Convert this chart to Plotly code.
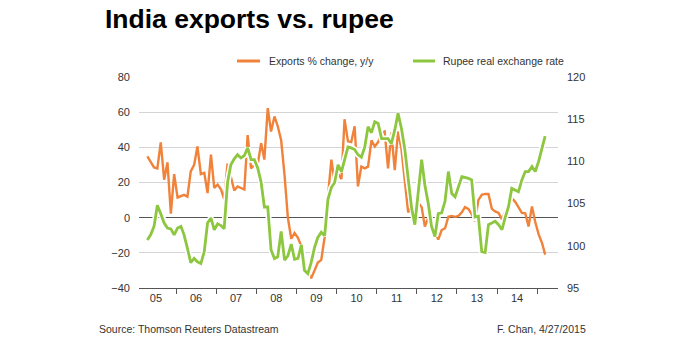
import plotly.graph_objects as go
import pandas as pd

# ---------------- data (monthly, Apr 2005 - Mar 2015) ----------------
start_month = "2005-04"

exports_pct_yy = [
    34.8, 32, 28.6, 28, 42.8, 21.6, 31.4, 2.3, 24.8,              # 2005 Apr-Dec
    11.5, 12.5, 13, 12, 26.3, 30, 40.5, 24.8, 25.5, 14, 35.8, 16.9,  # 2006
    18.8, 16, 10.6, 30.7, 23, 15.5, 17.8, 17, 16, 47, 28, 30,        # 2007
    30.5, 42.4, 33, 62.3, 49, 57.6, 52, 44, 24, 0, -12, -8.7,        # 2008
    -11.5, -16.3, -25, -30.5, -34.5, -30, -25.5, -24, -11, 12, 33, 20,  # 2009
    25, 22, 56, 43.4, 43, 52, 17.8, 29, 28, 29, 44, 40.5,            # 2010
    43, 48, 49, 28, 48.5, 27, 49, 39, 20, 3, 6, 9,                   # 2011
    8.5, 6, -5, 0, -5, -8, -12.5, -7, -6, 0.5, 1, 0.5,               # 2012
    1, 3, 6, 5, 2, -2, 10, 13, 13.5, 13.5, 5, 3.6,                   # 2013
    2.7, -1, 3, 8, 11.2, 9, 6, 2.7, 2.5, -5, 6.4, -2.5,              # 2014
    -9.5, -14.5, -21,                                                # 2015 Jan-Mar
]

rupee_reer = [
    100.7, 101.3, 102.3, 104.8, 103.8, 102.7, 102.1, 102, 101.3,
    102.1, 102.3, 101.3, 99.7, 98, 98.5, 98.1, 97.9, 99.3, 102.7, 103.3, 101.9,
    102.6, 102.4, 102.0, 107.5, 109.6, 110.3, 110.8, 110.4, 110.7, 111.6, 110.2, 110.2,
    109.2, 107.5, 104.6, 104.6, 99.5, 98.5, 98.7, 101.7, 98.3, 98.8, 100.2, 98.4,
    98.5, 100.1, 97.1, 96.7, 98, 99.8, 101.0, 101.6, 101.2, 105.5, 106.9, 107.5,
    109.6, 108.8, 110.2, 111.7, 111.6, 111.4, 110.8, 110.5, 111.7, 114.1, 113.4, 114.7,
    114.5, 112.7, 112.7, 112.7, 112.1, 113.7, 115.7, 113.9, 111.4, 107.8, 104.5, 102.5,
    106.4, 110.2, 107.2, 105, 102.3, 101.1, 103.8, 103.9, 105.3, 108.8, 106.2, 105.8,
    107, 108.2, 108.1, 108, 107.8, 103.4, 103.5, 99.3, 99.2, 102.5, 102.7, 102.9,
    102.5, 101.9, 103.3, 104.6, 106.8, 106.6, 106.4, 107.8, 108.8, 108.8, 109.4, 108.8,
    110, 111.6, 113,
]

year_labels = ["05", "06", "07", "08", "09", "10", "11", "12", "13", "14"]
boundary_years = list(range(2006, 2016))

left_ticks = [-40, -20, 0, 20, 40, 60, 80]
right_ticks = [95, 100, 105, 110, 115, 120]

series_names = ["Exports % change, y/y", "Rupee real exchange rate"]
title_text = "India exports vs. rupee"
source_text = "Source: Thomson Reuters Datastream"
credit_text = "F. Chan, 4/27/2015"

# ---------------- derived x values ----------------
months = pd.period_range(start_month, periods=len(exports_pct_yy), freq="M")
dates = months.to_timestamp(how="start") + pd.Timedelta(days=14)
label_pos = [f"20{y}-07-02" for y in year_labels]
boundary_pos = [f"{y}-01-01" for y in boundary_years]

# ---------------- styling ----------------
ORANGE = "#F0823A"
GREEN = "#8DC63F"
GRID = "#D4D4D4"
DARK = "#555555"
TXT = "#333333"
FONT = "Liberation Sans, Arial, sans-serif"
SMALL = 10.5

W, H = 692, 338
ML, MR, MT, MB = 139, 134, 77, 50
PW, PH = W - ML - MR, H - MT - MB


def px(xp):
    return (xp - ML) / PW


def py(yp):
    return (H - MB - yp) / PH


fig = go.Figure()
fig.add_trace(go.Scatter(x=dates, y=exports_pct_yy, mode="lines", name=series_names[0],
                         line=dict(color=ORANGE, width=2.4), yaxis="y"))
fig.add_trace(go.Scatter(x=dates, y=rupee_reer, mode="lines", showlegend=False, hoverinfo="skip",
                         line=dict(color="white", width=6), yaxis="y2"))
fig.add_trace(go.Scatter(x=dates, y=rupee_reer, mode="lines", name=series_names[1],
                         line=dict(color=GREEN, width=2.8), yaxis="y2"))

fig.update_layout(
    width=W, height=H,
    margin=dict(l=ML, r=MR, t=MT, b=MB, pad=0),
    paper_bgcolor="white", plot_bgcolor="white",
    showlegend=False,
    font=dict(family=FONT, size=SMALL, color=TXT),
    xaxis=dict(
        type="date",
        range=["2005-01-29", "2015-07-10"],
        tickmode="array", tickvals=label_pos, ticktext=year_labels,
        ticks="", showgrid=False, zeroline=False,
        showline=True, linecolor=DARK, linewidth=1,
        tickfont=dict(size=11, color=TXT),
        minor=dict(tickmode="array", tickvals=boundary_pos, ticks="outside",
                   ticklen=5, tickwidth=1, tickcolor=DARK, showgrid=False),
    ),
    yaxis=dict(
        range=[-40, 80], tickmode="array", tickvals=left_ticks,
        showgrid=True, gridcolor=GRID, gridwidth=1,
        zeroline=True, zerolinecolor=DARK, zerolinewidth=1,
        ticks="", ticklabelstandoff=8, tickfont=dict(size=11, color=TXT),
        showline=False,
    ),
    yaxis2=dict(
        range=[95, 120], tickmode="array", tickvals=right_ticks,
        overlaying="y", side="right", showgrid=False, zeroline=False,
        ticks="", ticklabelstandoff=8, tickfont=dict(size=11, color=TXT),
        showline=False,
    ),
)

# title
fig.add_annotation(text=f"<b>{title_text}</b>", xref="paper", yref="paper",
                   x=px(103), y=py(19), xanchor="left", yanchor="middle", showarrow=False,
                   font=dict(family=FONT, size=26.5, color="black"))

# manual legend
leg_y = 61
fig.add_shape(type="line", xref="paper", yref="paper", x0=px(237), x1=px(260), y0=py(leg_y), y1=py(leg_y),
              line=dict(color=ORANGE, width=3))
fig.add_annotation(text=series_names[0], xref="paper", yref="paper", x=px(267), y=py(leg_y),
                   xanchor="left", yanchor="middle", showarrow=False, font=dict(size=SMALL, color=TXT))
fig.add_shape(type="line", xref="paper", yref="paper", x0=px(413), x1=px(435), y0=py(leg_y), y1=py(leg_y),
              line=dict(color=GREEN, width=3))
fig.add_annotation(text=series_names[1], xref="paper", yref="paper", x=px(441), y=py(leg_y),
                   xanchor="left", yanchor="middle", showarrow=False, font=dict(size=SMALL, color=TXT))

# footer
fig.add_annotation(text=source_text, xref="paper", yref="paper", x=px(97), y=py(329),
                   xanchor="left", yanchor="middle", showarrow=False, font=dict(size=SMALL, color=TXT))
fig.add_annotation(text=credit_text, xref="paper", yref="paper", x=px(588), y=py(329),
                   xanchor="right", yanchor="middle", showarrow=False, font=dict(size=SMALL, color=TXT))

fig.write_html("out.html")
